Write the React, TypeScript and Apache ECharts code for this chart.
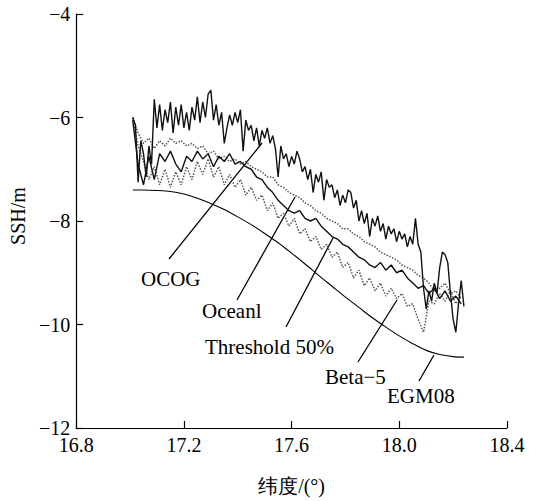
import React, { useEffect, useRef } from "react";
import * as echarts from "echarts";

// Latitude grid (0.01°) for the OCOG track
const LAT_FINE = [
  17.01, 17.02, 17.03, 17.04, 17.05, 17.06, 17.07, 17.08, 17.09, 17.1,
  17.11, 17.12, 17.13, 17.14, 17.15, 17.16, 17.17, 17.18, 17.19, 17.2,
  17.21, 17.22, 17.23, 17.24, 17.25, 17.26, 17.27, 17.28, 17.29, 17.3,
  17.31, 17.32, 17.33, 17.34, 17.35, 17.36, 17.37, 17.38, 17.39, 17.4,
  17.41, 17.42, 17.43, 17.44, 17.45, 17.46, 17.47, 17.48, 17.49, 17.5,
  17.51, 17.52, 17.53, 17.54, 17.55, 17.56, 17.57, 17.58, 17.59, 17.6,
  17.61, 17.62, 17.63, 17.64, 17.65, 17.66, 17.67, 17.68, 17.69, 17.7,
  17.71, 17.72, 17.73, 17.74, 17.75, 17.76, 17.77, 17.78, 17.79, 17.8,
  17.81, 17.82, 17.83, 17.84, 17.85, 17.86, 17.87, 17.88, 17.89, 17.9,
  17.91, 17.92, 17.93, 17.94, 17.95, 17.96, 17.97, 17.98, 17.99, 18.0,
  18.01, 18.02, 18.03, 18.04, 18.05, 18.06, 18.07, 18.08, 18.09, 18.1,
  18.11, 18.12, 18.13, 18.14, 18.15, 18.16, 18.17, 18.18, 18.19, 18.2,
  18.21, 18.22, 18.23, 18.24,
];

const OCOG = [
  -6.0, -6.15, -7.25, -6.45, -6.7, -7.15, -6.55, -6.9, -5.65, -6.2,
  -5.75, -6.25, -5.85, -6.1, -5.7, -6.3, -5.8, -6.15, -5.75, -6.2,
  -5.9, -6.25, -5.8, -6.05, -5.6, -6.1, -5.7, -6.0, -5.55, -5.47,
  -6.05, -5.75, -6.15, -5.9, -6.5, -6.2, -5.95, -6.15, -5.9, -6.1,
  -5.85, -6.65, -6.05, -6.25, -6.15, -6.45, -6.2, -6.55, -6.25, -6.4,
  -6.2, -6.5, -6.35, -6.6, -7.15, -6.55, -6.8, -6.7, -6.95, -6.75,
  -6.9, -6.65, -6.8, -7.05, -6.95, -7.2, -7.0, -7.45, -7.1, -7.25,
  -7.05, -7.6, -7.2, -7.35, -7.3, -7.55, -7.4, -7.7, -7.5, -7.65,
  -7.4, -7.45, -7.75, -7.6, -8.0, -7.8, -8.05, -7.85, -8.3, -7.95,
  -8.1, -7.9, -8.2, -8.05, -8.35, -8.1, -8.25, -8.15, -8.4, -8.2,
  -8.35, -8.25, -8.5, -8.3, -8.45, -7.95, -8.45, -8.6, -9.3, -9.7,
  -9.35, -9.55, -9.2, -9.4, -8.9, -8.6, -8.65, -8.8, -9.4, -9.9,
  -10.15, -9.6, -9.15, -9.65,
];

// Latitude grid (0.02°) for the other retracked tracks
const LAT = [
  17.01, 17.03, 17.05, 17.07, 17.09, 17.11, 17.13, 17.15, 17.17, 17.19,
  17.21, 17.23, 17.25, 17.27, 17.29, 17.31, 17.33, 17.35, 17.37, 17.39,
  17.41, 17.43, 17.45, 17.47, 17.49, 17.51, 17.53, 17.55, 17.57, 17.59,
  17.61, 17.63, 17.65, 17.67, 17.69, 17.71, 17.73, 17.75, 17.77, 17.79,
  17.81, 17.83, 17.85, 17.87, 17.89, 17.91, 17.93, 17.95, 17.97, 17.99,
  18.01, 18.03, 18.05, 18.07, 18.09, 18.11, 18.13, 18.15, 18.17, 18.19,
  18.21, 18.23,
];

const OCEANL = [
  -6.0, -6.3, -6.5, -6.4, -6.6, -6.45, -6.55, -6.4, -6.5, -6.45,
  -6.55, -6.5, -6.6, -6.55, -6.7, -6.65, -6.8, -6.75, -6.85, -6.8,
  -6.9, -6.85, -6.95, -7.0, -7.05, -7.15, -7.15, -7.3, -7.35, -7.45,
  -7.5, -7.55, -7.65, -7.7, -7.8, -7.85, -7.95, -8.0, -8.05, -8.15,
  -8.15, -8.25, -8.3, -8.4, -8.45, -8.5, -8.6, -8.65, -8.7, -8.75,
  -8.85, -8.9, -8.95, -9.05, -9.1, -9.2, -9.35, -9.3, -9.2, -9.4,
  -9.35, -9.5,
];

const THRESHOLD = [
  -6.05, -6.9, -7.3, -6.75, -7.2, -6.7, -6.85, -6.65, -6.9, -7.05,
  -6.75, -6.85, -6.65, -6.8, -6.7, -6.95, -6.75, -6.85, -6.7, -6.9,
  -6.85, -6.95, -7.0, -7.15, -7.2, -7.35, -7.45, -7.6, -7.7, -7.8,
  -7.85, -7.8, -7.95, -8.0, -7.95, -8.1, -8.2, -8.3, -8.35, -8.45,
  -8.5, -8.6, -8.7, -8.75, -8.85, -8.9, -8.8, -8.95, -8.85, -9.0,
  -8.95, -9.1, -9.2, -9.3, -9.25, -9.4, -9.3, -9.5, -9.35, -9.55,
  -9.45, -9.6,
];

const BETA5 = [
  -6.0, -6.55, -6.85, -7.2, -6.95, -7.3, -7.0, -7.35, -7.05, -7.3,
  -6.95, -7.2, -6.85, -7.1, -6.8, -7.15, -6.95, -7.3, -7.1, -7.35,
  -7.2, -7.5, -7.35, -7.6, -7.5, -7.8, -7.65, -7.95, -7.85, -8.1,
  -7.95, -8.25, -8.15, -8.4, -8.3, -8.55, -8.45, -8.7, -8.6, -8.9,
  -8.8, -9.1, -8.95, -9.25, -9.1, -9.35, -9.2, -9.45, -9.3, -9.5,
  -9.4, -9.65, -9.6, -9.9, -10.15, -9.55, -9.6, -9.4, -9.55, -9.35,
  -9.6, -9.45,
];

const EGM_LAT = [
  17.01, 17.05, 17.1, 17.15, 17.2, 17.25, 17.3, 17.35, 17.4, 17.45,
  17.5, 17.55, 17.6, 17.65, 17.7, 17.75, 17.8, 17.85, 17.9, 17.95,
  18.0, 18.05, 18.1, 18.15, 18.2, 18.24,
];
const EGM08 = [
  -7.4, -7.4, -7.41, -7.43, -7.48, -7.56, -7.66, -7.78, -7.92, -8.07,
  -8.24, -8.42, -8.62, -8.83, -9.05, -9.26, -9.47, -9.67, -9.87, -10.05,
  -10.22, -10.37, -10.5, -10.58, -10.62, -10.63,
];

const X_MIN = 16.8;
const X_MAX = 18.4;
const X_STEP = 0.4;
const Y_MIN = -12;
const Y_MAX = -4;
const Y_STEP = 2;

const X_NAME = "纬度/(°)";
const Y_NAME = "SSH/m";

const LABEL_TEXTS = ["OCOG", "Oceanl", "Threshold 50%", "Beta\u22125", "EGM08"];

const FONT = "'Liberation Serif', 'Times New Roman', serif";

const pairs = (xs: number[], ys: number[]) => xs.map((x, i) => [x, ys[i]]);

export default function App() {
  const ref = useRef<HTMLDivElement>(null);

  useEffect(() => {
    if (!ref.current) return;
    const chart = echarts.init(ref.current, undefined, { renderer: "svg" });

    // annotation layout (pixels)
    const labelPos = [
      { x: 141, y: 279 },
      { x: 202, y: 311 },
      { x: 205, y: 347 },
      { x: 325, y: 377 },
      { x: 387, y: 396 },
    ];
    const leaders = [
      [169, 259, 262, 143],
      [237, 300, 295, 197],
      [286, 327, 333, 238],
      [358, 362, 397, 300],
      [419, 381, 434, 355],
    ];

    const graphic: any[] = [];
    leaders.forEach((l) => {
      graphic.push({
        type: "line",
        silent: true,
        shape: { x1: l[0], y1: l[1], x2: l[2], y2: l[3] },
        style: { stroke: "#000", lineWidth: 1.3 },
      });
    });
    LABEL_TEXTS.forEach((t, i) => {
      graphic.push({
        type: "text",
        x: labelPos[i].x,
        y: labelPos[i].y,
        style: {
          text: t,
          fontSize: 21,
          fontFamily: FONT,
          fill: "#000",
          align: "left",
          verticalAlign: "middle",
        },
      });
    });

    const option: any = {
      animation: false,
      backgroundColor: "#fff",
      textStyle: { fontFamily: FONT },
      grid: { left: 69, right: 32, top: 14, bottom: 72 },
      xAxis: {
        type: "value",
        min: X_MIN,
        max: X_MAX,
        interval: X_STEP,
        name: X_NAME,
        nameLocation: "middle",
        nameGap: 48,
        nameTextStyle: { fontSize: 20, fontFamily: FONT, color: "#000" },
        axisLine: { onZero: false, lineStyle: { color: "#000", width: 1.2 } },
        axisTick: { inside: true, length: 7, lineStyle: { color: "#000", width: 1.2 } },
        axisLabel: {
          fontSize: 20,
          lineHeight: 16,
          fontFamily: FONT,
          color: "#000",
          margin: 9,
          formatter: (v: number) => v.toFixed(1),
        },
        splitLine: { show: false },
      },
      yAxis: {
        type: "value",
        min: Y_MIN,
        max: Y_MAX,
        interval: Y_STEP,
        name: Y_NAME,
        nameLocation: "middle",
        nameGap: 40,
        nameTextStyle: { fontSize: 20, fontFamily: FONT, color: "#000", padding: [0, 0, 0, 10] },
        axisLine: { show: true, onZero: false, lineStyle: { color: "#000", width: 1.2 } },
        axisTick: { show: true, inside: true, length: 7, lineStyle: { color: "#000", width: 1.2 } },
        axisLabel: {
          fontSize: 20,
          lineHeight: 16,
          fontFamily: FONT,
          color: "#000",
          margin: 6,
          formatter: (v: number) => (v < 0 ? "\u2212" + Math.abs(v) : String(v)),
        },
        splitLine: { show: false },
      },
      series: [
        {
          name: "EGM08",
          type: "line",
          data: pairs(EGM_LAT, EGM08),
          showSymbol: false,
          smooth: 0.3,
          lineStyle: { color: "#000", width: 1.1 },
        },
        {
          name: "Beta-5",
          type: "line",
          data: pairs(LAT, BETA5),
          showSymbol: false,
          lineStyle: { color: "#555", width: 1.5, type: "dotted" },
        },
        {
          name: "Oceanl",
          type: "line",
          data: pairs(LAT, OCEANL),
          showSymbol: false,
          lineStyle: { color: "#555", width: 1.5, type: "dotted" },
        },
        {
          name: "Threshold 50%",
          type: "line",
          data: pairs(LAT, THRESHOLD),
          showSymbol: false,
          lineStyle: { color: "#111", width: 1.4 },
        },
        {
          name: "OCOG",
          type: "line",
          data: pairs(LAT_FINE, OCOG),
          showSymbol: false,
          lineStyle: { color: "#111", width: 1.4 },
        },
      ],
      graphic,
    };

    chart.setOption(option);
    return () => chart.dispose();
  }, []);

  return (
    <div
      ref={ref}
      style={{ position: "fixed", left: 0, top: 0, width: 539, height: 501, background: "#fff" }}
    />
  );
}
